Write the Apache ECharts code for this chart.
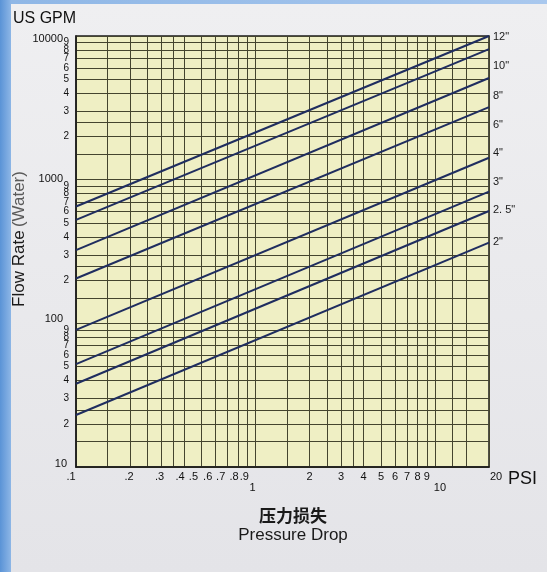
<!DOCTYPE html>
<html><head><meta charset="utf-8">
<script src="https://cdn.jsdelivr.net/npm/echarts@6.0.0/dist/echarts.min.js"></script>
<style>
html,body{margin:0;padding:0;width:547px;height:572px;overflow:hidden;}
body{background:linear-gradient(90deg,#5a93d6 0px,#8db6e6 11px,#e4e5ea 11px);}
#strip{position:absolute;left:11px;top:0;right:0;height:4px;background:linear-gradient(90deg,#8fb7e6,#a9c8ee);}
#panel{position:absolute;left:11px;top:4px;right:0;bottom:0;background:linear-gradient(180deg,#efeff1,#e4e4e8);}
#chart{position:absolute;left:0;top:0;width:547px;height:572px;}
</style></head>
<body><div id="panel"></div><div id="strip"></div><div id="chart"></div>
<script>
// ---- data ----
const pressure = [0.1, 20];                       // PSI at the two ends of every line
const pipeSizes = ['12"', '10"', '8"', '6"', '4"', '3"', '2. 5"', '2"'];
const flow12 = [650, 10000];
const flow10 = [525, 8100];
const flow8  = [323, 5100];
const flow6  = [205, 3200];
const flow4  = [90, 1420];
const flow3  = [52, 825];
const flow25 = [38, 605];
const flow2  = [23, 365];
const xGridValues = [0.1,0.15,0.2,0.25,0.3,0.35,0.4,0.5,0.6,0.7,0.8,0.9,1,1.5,2,2.5,3,3.5,4,5,6,7,8,9,10,12.5,15,20];
const xTickLabels = [0.1,0.2,0.3,0.4,0.5,0.6,0.7,0.8,0.9,1,2,3,4,5,6,7,8,9,10,20];
const yGridValues = [10,15,20,25,30,40,50,60,70,80,90,100,150,200,250,300,400,500,600,700,800,900,
                     1000,1500,2000,2500,3000,4000,5000,6000,7000,8000,9000,10000];
const yTickLabels = [10,20,30,40,50,60,70,80,90,100,200,300,400,500,600,700,800,900,
                     1000,2000,3000,4000,5000,6000,7000,8000,9000,10000];

const flows = [flow12, flow10, flow8, flow6, flow4, flow3, flow25, flow2];

// ---- styling helpers ----
const FONT = '"Liberation Sans", Arial, sans-serif';
const endLabelDy = [1, 17, 18, 18, -5, -10, -1, -1];
const xShift = {'.1':[-5,0], '.2':[-1,0], '.3':[-2,0], '.4':[-4,0], '.5':[-8,0], '.6':[-8,0],
                '.7':[-7,0], '.8':[-4,0], '.9':[-3,0], '1':[-3,11], '10':[5,11], '20':[7,0]};
const yShift = {'10000':[-6,3], '1000':[-6,-1], '100':[-6,-4], '10':[-2,-3]};

function xText(v){ return v < 1 ? '.' + Math.round(v*10) : String(Math.round(v)); }
function isPow10(v){ const l = Math.log10(v); return Math.abs(l - Math.round(l)) < 1e-9; }
function yText(v){
  if (isPow10(v)) return String(Math.round(v));
  const p = Math.pow(10, Math.floor(Math.log10(v) + 1e-9));
  return String(Math.round(v / p));
}
function findIdx(list, v){ return list.findIndex(u => Math.abs(u - v) / u < 1e-6); }

const xRich = {};
xTickLabels.forEach((v, i) => {
  const s = xShift[xText(v)] || [0, 0];
  xRich['x' + i] = {fontSize: 11, color: '#111', fontFamily: FONT,
    padding: [Math.max(s[1], 0), Math.max(-2 * s[0], 0), 0, Math.max(2 * s[0], 0)]};
});
const yRich = {};
yTickLabels.forEach((v, i) => {
  const major = isPow10(v);
  const s = yShift[major ? String(Math.round(v)) : ''] || [0, 0];
  yRich['y' + i] = {fontSize: major ? 11 : 10, color: '#111', fontFamily: FONT,
    padding: [Math.max(2 * s[1], 0), Math.max(-s[0], 0), Math.max(-2 * s[1], 0), 0]};
});

const chart = echarts.init(document.getElementById('chart'), null, {renderer: 'canvas'});
chart.setOption({
  animation: false,
  backgroundColor: 'transparent',
  grid: {left: 76, top: 36, width: 413, height: 431, show: true,
         backgroundColor: '#efefc4', borderColor: '#1b1b1b', borderWidth: 1.5},
  xAxis: {
    type: 'log', logBase: 10, min: 0.1, max: 20,
    name: 'PSI', nameLocation: 'end', nameGap: 19,
    nameTextStyle: {fontSize: 18, color: '#111', fontFamily: FONT, verticalAlign: 'top', padding: [3, 0, 0, 0]},
    axisLine: {show: true, lineStyle: {color: '#1b1b1b', width: 1.5}},
    axisTick: {show: false, customValues: xGridValues},
    splitLine: {show: true, lineStyle: {color: '#45452f', width: 1}},
    axisLabel: {customValues: xTickLabels, margin: 4, hideOverlap: false, fontSize: 11, color: '#111', fontFamily: FONT,
      rich: xRich,
      formatter: function (v) { const i = findIdx(xTickLabels, v); const t = xText(v); return i >= 0 ? '{x' + i + '|' + t + '}' : t; }}
  },
  yAxis: {
    type: 'log', logBase: 10, min: 10, max: 10000,
    axisLine: {show: true, lineStyle: {color: '#1b1b1b', width: 1.5}},
    axisTick: {show: false, customValues: yGridValues},
    splitLine: {show: true, lineStyle: {color: '#45452f', width: 1}},
    axisLabel: {customValues: yTickLabels, margin: 7, hideOverlap: false, fontSize: 10, color: '#111', fontFamily: FONT,
      rich: yRich,
      formatter: function (v) { const i = findIdx(yTickLabels, v); const t = yText(v); return i >= 0 ? '{y' + i + '|' + t + '}' : t; }}
  },
  graphic: [
    {type: 'text', x: 13, y: 19, style: {text: 'US GPM', fill: '#111', font: '16px ' + FONT, align: 'left', verticalAlign: 'middle'}},
    {type: 'text', x: 19, y: 239, rotation: Math.PI / 2,
     style: {text: '{a|Flow Rate} {b|(Water)}', align: 'center', verticalAlign: 'middle',
             rich: {a: {fontSize: 17, fill: '#1a1a1a', fontFamily: FONT},
                    b: {fontSize: 17, fill: '#5a5a5a', fontFamily: FONT}}}},
    {type: 'text', x: 293, y: 516, style: {text: '压力损失', fill: '#1a1a1a', font: 'bold 17px "Noto Sans CJK SC"', align: 'center', verticalAlign: 'middle'}},
    {type: 'text', x: 293, y: 535, style: {text: 'Pressure Drop', fill: '#1a1a1a', font: '17px ' + FONT, align: 'center', verticalAlign: 'middle'}}
  ],
  series: pipeSizes.map((name, i) => ({
    type: 'line', name: name, silent: true, symbol: 'none', clip: false,
    data: pressure.map((p, j) => [p, flows[i][j]]),
    lineStyle: {color: '#1f2d5f', width: 2},
    endLabel: {show: true, formatter: '{a}', distance: 4, offset: [0, endLabelDy[i]],
               fontSize: 11, color: '#1a1a1a', fontFamily: FONT}
  }))
});
</script>
</body></html>
